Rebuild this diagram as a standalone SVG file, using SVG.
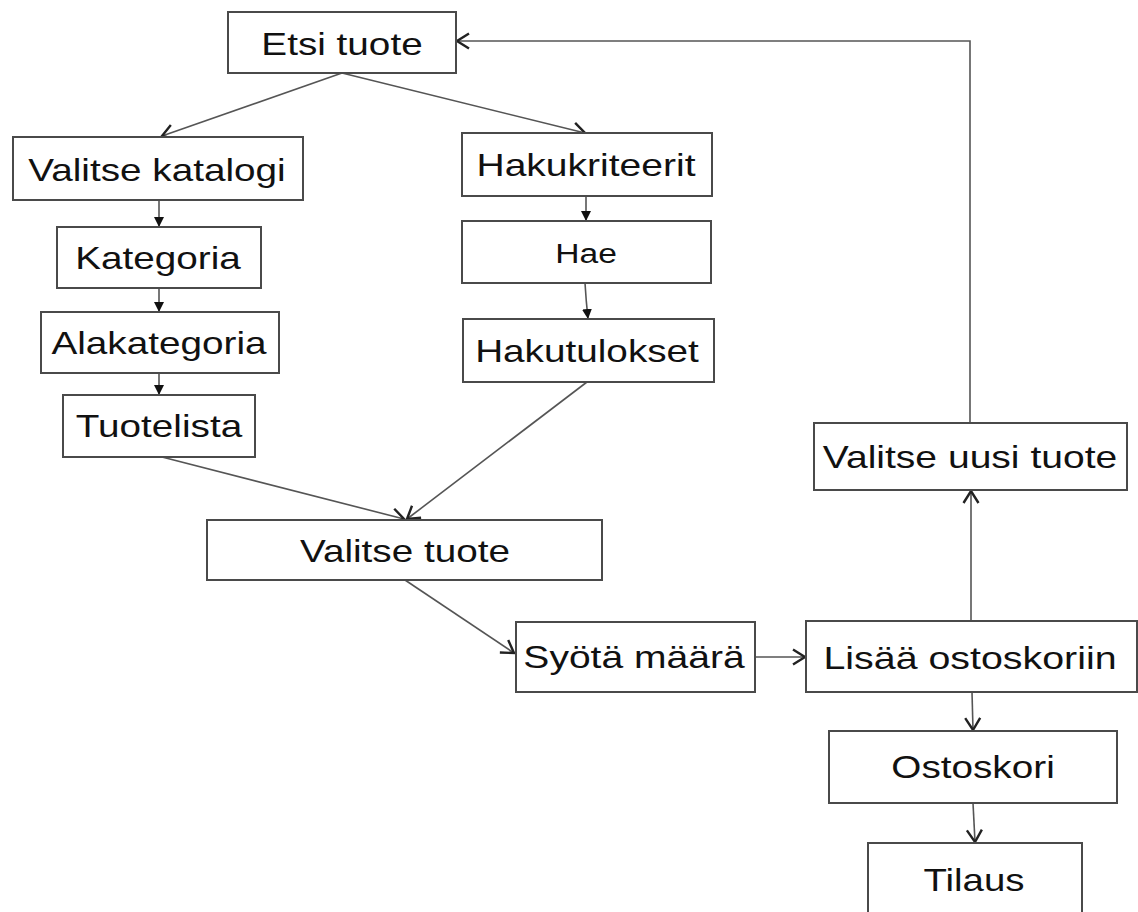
<svg xmlns="http://www.w3.org/2000/svg" width="1138" height="912" viewBox="0 0 1138 912">
<style>
.box{fill:#fff;stroke:#4a4a4a;stroke-width:2}
.t{font-family:"Liberation Sans",Arial,sans-serif;font-size:32px;fill:#111;text-anchor:middle}
.s{font-size:28px}
.c{fill:none;stroke:#555;stroke-width:1.6}
.open{marker-end:url(#open)}
.fill{marker-end:url(#filled)}
</style>
<defs>
<marker id="open" markerUnits="userSpaceOnUse" markerWidth="22" markerHeight="22" refX="13" refY="9" orient="auto">
<path d="M1,1.5 L13,9 L1,16.5" fill="none" stroke="#222" stroke-width="2.4"/>
</marker>
<marker id="filled" markerUnits="userSpaceOnUse" markerWidth="14" markerHeight="14" refX="10" refY="5" orient="auto">
<path d="M0,0 L10,5 L0,10 Z" fill="#111"/>
</marker>
</defs>
<rect width="1138" height="912" fill="#fff"/>
<g id="connectors">
<line class="c open" x1="342" y1="73" x2="162" y2="136"/>
<line class="c open" x1="342" y1="73" x2="585" y2="133"/>
<line class="c fill" x1="159" y1="200" x2="159" y2="227"/>
<line class="c fill" x1="159" y1="288" x2="159" y2="312"/>
<line class="c fill" x1="159" y1="373" x2="159" y2="395"/>
<line class="c fill" x1="586" y1="196" x2="586" y2="221"/>
<path class="c fill" d="M585,283 Q586,300 588,319"/>
<line class="c open" x1="162" y1="457" x2="404" y2="519"/>
<line class="c open" x1="587" y1="382" x2="407" y2="519"/>
<line class="c open" x1="405" y1="580" x2="514" y2="653"/>
<line class="c open" x1="755" y1="657" x2="805" y2="657"/>
<line class="c open" x1="971" y1="621" x2="971" y2="491"/>
<polyline class="c open" points="970,423 970,41 457,41"/>
<line class="c open" x1="972" y1="692" x2="973" y2="730"/>
<line class="c open" x1="973" y1="803" x2="975" y2="842"/>
</g>
<g id="n-etsi"><rect class="box" x="228" y="12" width="228" height="61"/><text class="t" transform="translate(342 55) scale(1.21 1)">Etsi tuote</text></g>
<g id="n-katalogi"><rect class="box" x="13" y="137" width="290" height="63"/><text class="t" transform="translate(157 181) scale(1.21 1)">Valitse katalogi</text></g>
<g id="n-hakukriteerit"><rect class="box" x="462" y="133" width="250" height="63"/><text class="t" transform="translate(586 176) scale(1.22 1)">Hakukriteerit</text></g>
<g id="n-kategoria"><rect class="box" x="57" y="227" width="204" height="61"/><text class="t" transform="translate(158 269) scale(1.21 1)">Kategoria</text></g>
<g id="n-hae"><rect class="box" x="462" y="221" width="249" height="62"/><text class="t s" transform="translate(586 263) scale(1.2 1)">Hae</text></g>
<g id="n-alakategoria"><rect class="box" x="41" y="312" width="238" height="61"/><text class="t" transform="translate(159 354) scale(1.21 1)">Alakategoria</text></g>
<g id="n-hakutulokset"><rect class="box" x="463" y="319" width="251" height="63"/><text class="t" transform="translate(587 362) scale(1.21 1)">Hakutulokset</text></g>
<g id="n-tuotelista"><rect class="box" x="63" y="395" width="192" height="62"/><text class="t" transform="translate(159 437) scale(1.21 1)">Tuotelista</text></g>
<g id="n-valitsetuote"><rect class="box" x="207" y="520" width="395" height="60"/><text class="t" transform="translate(405 562) scale(1.21 1)">Valitse tuote</text></g>
<g id="n-syota"><rect class="box" x="516" y="622" width="239" height="70"/><text class="t" transform="translate(634 668) scale(1.22 1)">Syötä määrä</text></g>
<g id="n-lisaa"><rect class="box" x="806" y="621" width="331" height="71"/><text class="t" transform="translate(970 669) scale(1.23 1)">Lisää ostoskoriin</text></g>
<g id="n-uusi"><rect class="box" x="814" y="423" width="313" height="67"/><text class="t" transform="translate(970 468) scale(1.22 1)">Valitse uusi tuote</text></g>
<g id="n-ostoskori"><rect class="box" x="829" y="731" width="288" height="72"/><text class="t" transform="translate(973 778) scale(1.21 1)">Ostoskori</text></g>
<g id="n-tilaus"><rect class="box" x="868" y="843" width="214" height="80"/><text class="t" transform="translate(974 891) scale(1.2 1)">Tilaus</text></g>
</svg>
